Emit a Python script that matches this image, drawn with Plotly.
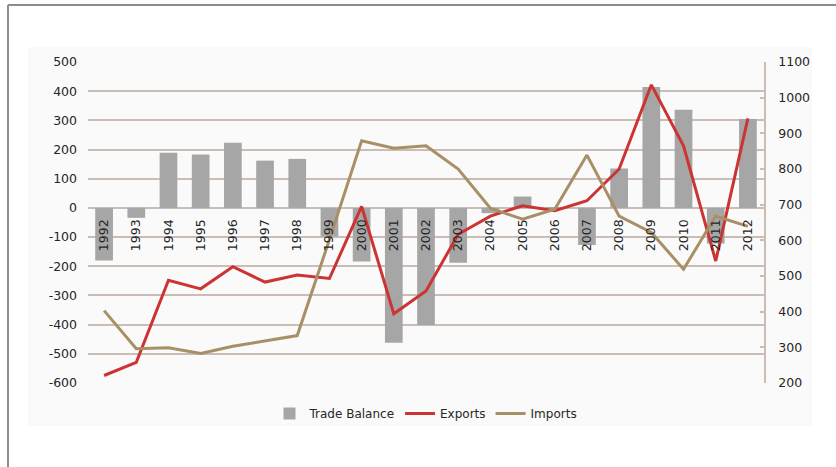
import plotly.graph_objects as go

years = [str(y) for y in range(1992, 2013)]

trade_balance = [-180, -34, 189, 183, 223, 162, 168, -98, -184, -462, -401,
                 -188, -18, 39, 2, -127, 135, 414, 336, -122, 305]
exports = [221, 258, 488, 464, 526, 483, 503, 493, 695, 394, 458,
           617, 668, 697, 683, 711, 800, 1036, 865, 542, 942]
imports = [403, 296, 299, 283, 303, 319, 333, 602, 879, 858, 865,
           800, 690, 659, 687, 839, 668, 622, 519, 668, 639]

left_ticks = list(range(-600, 501, 100))
left_labels = [str(v) for v in left_ticks]
right_ticks = list(range(200, 1101, 100))
right_labels = [str(v) for v in right_ticks]

FONT = "DejaVu Sans"
GRID = "#c9bdb5"
TEXT = "#262626"
FS = 12.5

fig = go.Figure()

fig.add_trace(go.Bar(
    x=years, y=trade_balance, name="Trade Balance",
    marker=dict(color="#a6a6a6", line=dict(width=0)),
    width=0.55, yaxis="y",
))
fig.add_trace(go.Scatter(
    x=years, y=exports, name="Exports", mode="lines",
    line=dict(color="#cc3434", width=3), yaxis="y2",
))
fig.add_trace(go.Scatter(
    x=years, y=imports, name="Imports", mode="lines",
    line=dict(color="#a89066", width=3), yaxis="y2",
))

W, H = 836, 467
ML, MR, MT, MB = 88, 72, 62, 84
pw, ph = W - ML - MR, H - MT - MB


def px_x(p):
    return (p - ML) / pw


def px_y(p):
    return (H - MB - p) / ph


zero_pos = (0 - left_ticks[0]) / (left_ticks[-1] - left_ticks[0])

shapes = [
    # light panel behind the chart
    dict(type="rect", xref="paper", yref="paper", layer="below",
         x0=px_x(28), x1=px_x(812), y0=px_y(426), y1=px_y(47),
         fillcolor="#fafafa", line=dict(width=0)),
    # outer frame (left and top edges)
    dict(type="line", xref="paper", yref="paper",
         x0=px_x(8), x1=px_x(8), y0=px_y(470), y1=px_y(5),
         line=dict(color="#8c8c8c", width=2)),
    dict(type="line", xref="paper", yref="paper",
         x0=px_x(8), x1=px_x(840), y0=px_y(5), y1=px_y(5),
         line=dict(color="#8c8c8c", width=2)),
]

fig.update_layout(
    width=W, height=H,
    margin=dict(l=ML, r=MR, t=MT, b=MB),
    paper_bgcolor="white",
    plot_bgcolor="rgba(0,0,0,0)",
    font=dict(family=FONT, size=FS, color=TEXT),
    bargap=0.45,
    shapes=shapes,
    showlegend=True,
    legend=dict(orientation="h", x=0.5, xanchor="center",
                y=px_y(399), yanchor="top",
                font=dict(family=FONT, size=12, color=TEXT),
                bgcolor="rgba(0,0,0,0)", itemwidth=30,
                traceorder="normal"),
    xaxis=dict(
        type="category", categoryorder="array", categoryarray=years,
        anchor="free", position=zero_pos,
        showgrid=False, showline=False, zeroline=False,
        ticks="", tickangle=-90, ticklabelstandoff=8,
        tickfont=dict(family=FONT, size=FS, color=TEXT),
    ),
    yaxis=dict(
        range=[left_ticks[0], left_ticks[-1]],
        tickvals=left_ticks, ticktext=left_labels,
        showgrid=True, gridcolor=GRID, gridwidth=1.5,
        zeroline=False, showline=False, ticks="",
        ticklabelstandoff=10,
        tickfont=dict(family=FONT, size=FS, color=TEXT),
    ),
    yaxis2=dict(
        range=[right_ticks[0], right_ticks[-1]],
        tickvals=right_ticks, ticktext=right_labels,
        overlaying="y", side="right",
        showgrid=False, zeroline=False,
        showline=True, linecolor=GRID, linewidth=1.5,
        ticks="inside", ticklen=4, tickcolor=GRID, tickwidth=1.5,
        ticklabelstandoff=10,
        tickfont=dict(family=FONT, size=FS, color=TEXT),
    ),
)

fig.write_html("out.html")
